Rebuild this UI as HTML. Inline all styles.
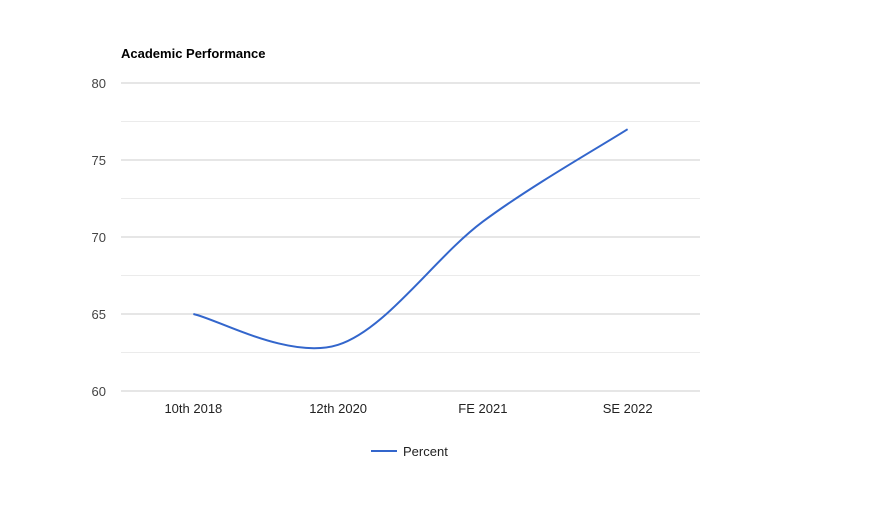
<!DOCTYPE html>
<html><head><meta charset="utf-8"><style>
html,body{margin:0;padding:0;background:#fff;}
svg{display:block;font-family:"Liberation Sans",Arial,sans-serif;}
</style></head><body>
<svg id="chart" width="886" height="529">
<text x="121" y="58" font-size="13" font-weight="bold" fill="#000">Academic Performance</text>
<g id="grid"></g>
<g id="xlabels"></g>
<g id="series"></g>
<g>
<line x1="371" y1="451" x2="397" y2="451" stroke="#3366cc" stroke-width="2"/>
<text x="403" y="456" font-size="13" fill="#222">Percent</text>
</g>
</svg>
<script>
const categories=["10th 2018","12th 2020","FE 2021","SE 2022"];
const percentValues=[65,63,71,77];
const yTicks=[60,65,70,75,80];
const NS="http://www.w3.org/2000/svg";
const L=121,R=700,T=83,B=391,yMin=60,yMax=80;
function yScale(v){return B-(v-yMin)/(yMax-yMin)*(B-T);}
function xScale(i){const w=(R-L)/categories.length;return L+w*(i+0.5);}
const grid=document.getElementById('grid');
for(let i=0;i<yTicks.length;i++){
  const v=yTicks[i];
  const l=document.createElementNS(NS,'line');
  l.setAttribute('x1',L);l.setAttribute('x2',R);l.setAttribute('y1',yScale(v));l.setAttribute('y2',yScale(v));
  l.setAttribute('stroke','#cccccc');l.setAttribute('stroke-width','1');
  
  
  grid.appendChild(l);
  if(i<yTicks.length-1){
    const m=document.createElementNS(NS,'line');
    const mv=(v+yTicks[i+1])/2;
    m.setAttribute('x1',L);m.setAttribute('x2',R);m.setAttribute('y1',yScale(mv));m.setAttribute('y2',yScale(mv));
    m.setAttribute('stroke','#ebebeb');
    
    
    grid.appendChild(m);
  }
  const t=document.createElementNS(NS,'text');
  t.setAttribute('x',106);t.setAttribute('y',yScale(v)+5);t.setAttribute('text-anchor','end');
  t.setAttribute('font-size','13');t.setAttribute('fill','#444');t.textContent=v;
  
  
  grid.appendChild(t);
}
const xl=document.getElementById('xlabels');
categories.forEach((c,i)=>{
  const t=document.createElementNS(NS,'text');
  t.setAttribute('x',xScale(i));t.setAttribute('y',413);t.setAttribute('text-anchor','middle');
  t.setAttribute('font-size','13');t.setAttribute('fill','#222');t.textContent=c;
  
  
  xl.appendChild(t);
});
const pts=percentValues.map((v,i)=>[xScale(i),yScale(v)]);
let d='M'+pts[0][0]+','+pts[0][1];
for(let i=0;i<pts.length-1;i++){
  const p0=pts[Math.max(0,i-1)],p1=pts[i],p2=pts[i+1],p3=pts[Math.min(pts.length-1,i+2)];
  const c1=[p1[0]+(p2[0]-p0[0])/6,p1[1]+(p2[1]-p0[1])/6];
  const c2=[p2[0]-(p3[0]-p1[0])/6,p2[1]-(p3[1]-p1[1])/6];
  d+=' C'+c1[0]+','+c1[1]+' '+c2[0]+','+c2[1]+' '+p2[0]+','+p2[1];
}
const path=document.createElementNS(NS,'path');
path.setAttribute('d',d);path.setAttribute('fill','none');path.setAttribute('stroke','#3366cc');path.setAttribute('stroke-width','2');


document.getElementById('series').appendChild(path);
</script>
</body></html>
